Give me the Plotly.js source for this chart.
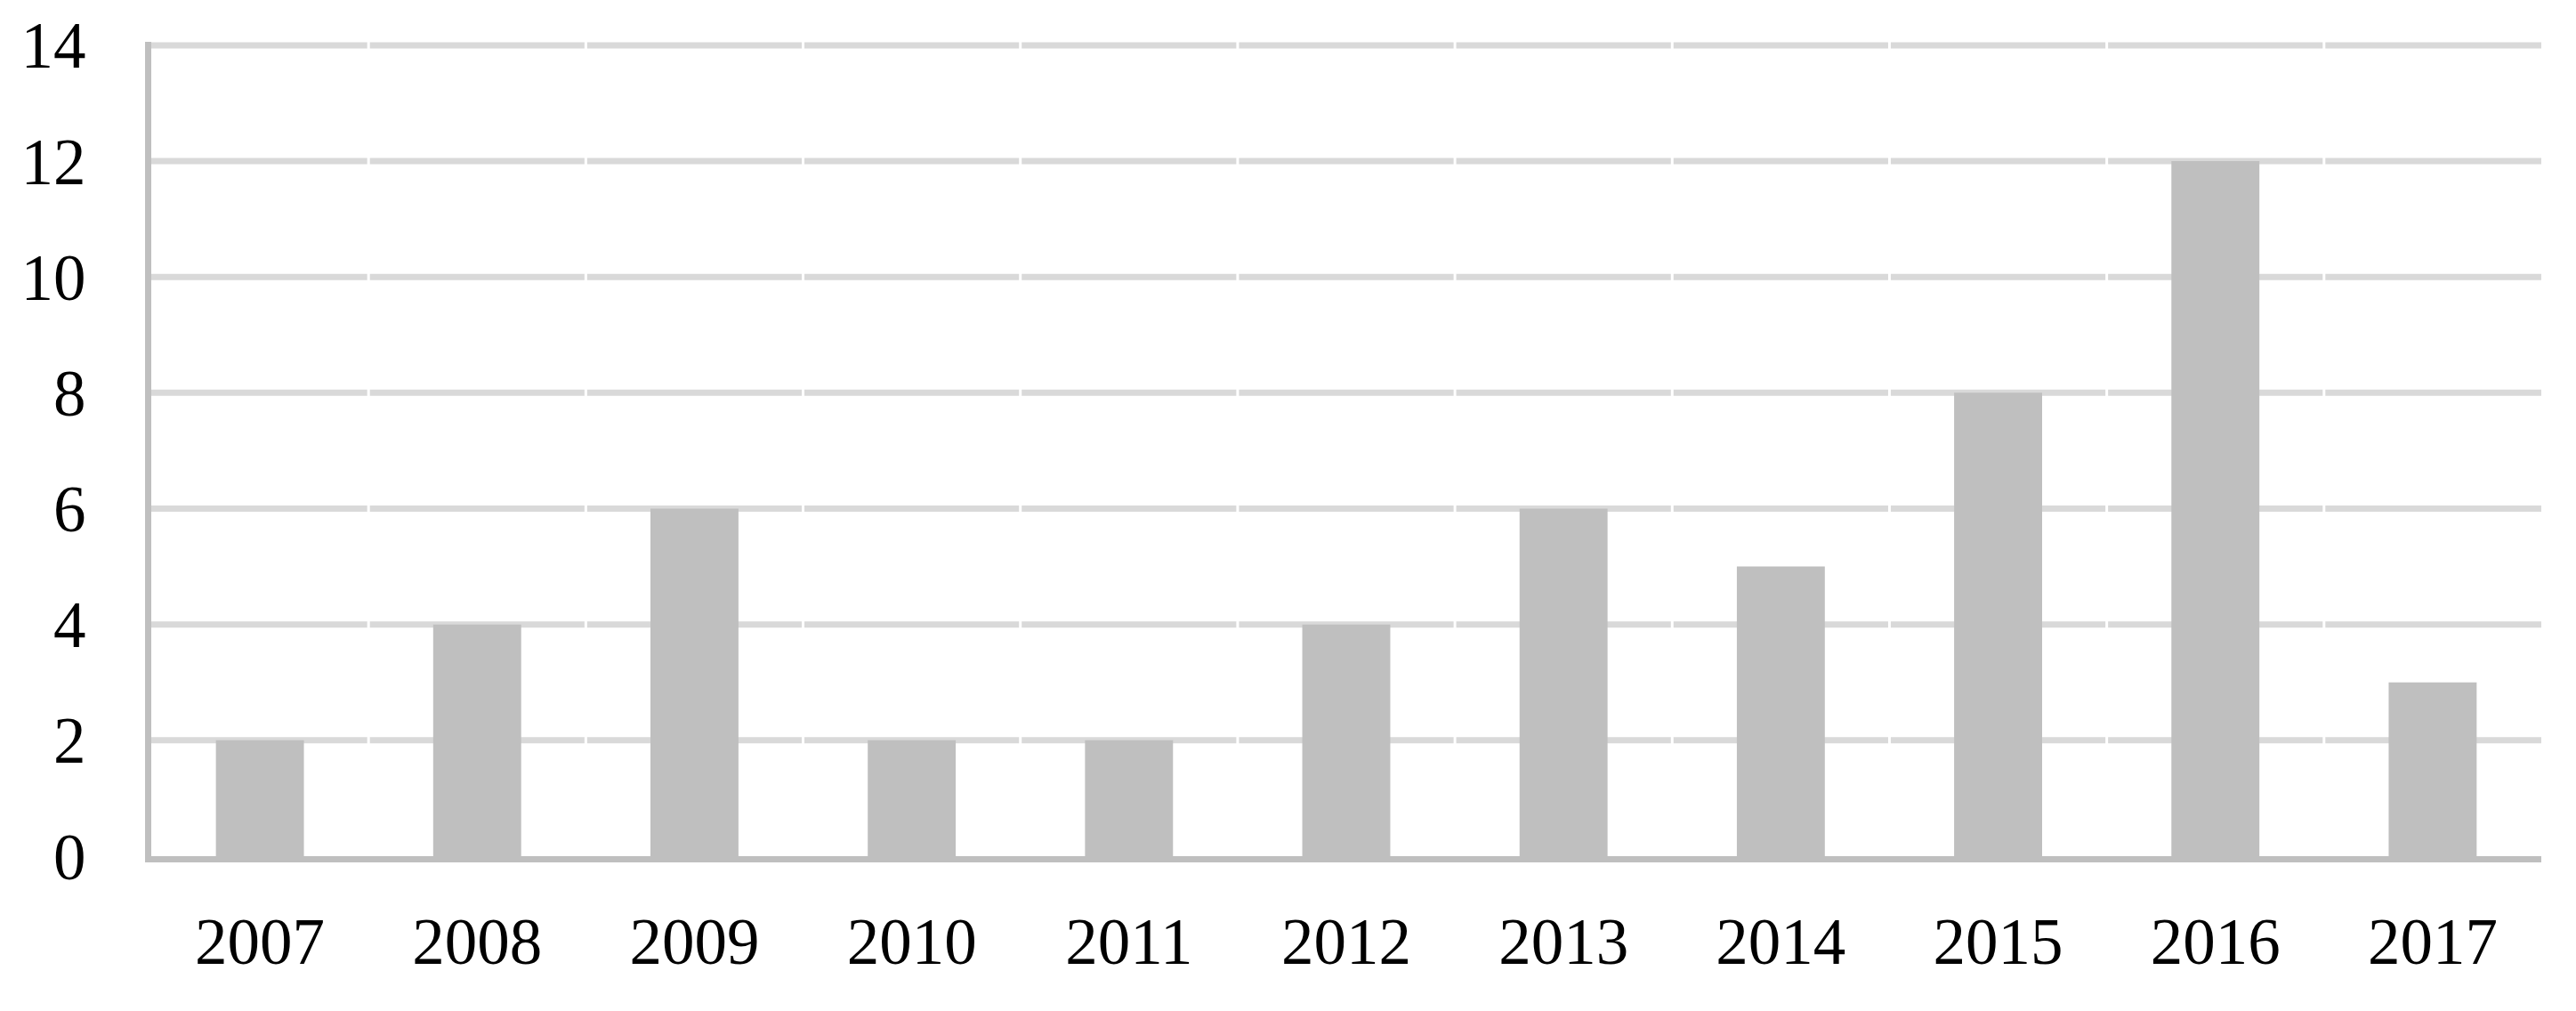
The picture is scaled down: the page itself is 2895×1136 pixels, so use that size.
<!DOCTYPE html>
<html>
<head>
<meta charset="utf-8">
<script src="https://cdn.plot.ly/plotly-3.0.1.min.js"></script>
<style>html,body{margin:0;padding:0;background:#fff;}#chart{width:2895px;height:1136px;}</style>
</head>
<body>
<div id="chart"></div>
<script>
const years = ["2007","2008","2009","2010","2011","2012","2013","2014","2015","2016","2017"];
const counts = [2, 4, 6, 2, 2, 4, 6, 5, 8, 12, 3];
const yTicks = [0, 2, 4, 6, 8, 10, 12, 14];

// horizontal gridlines (skip 0, where the axis line sits)
const gridShapes = yTicks.filter(v => v > 0).map(v => ({
  type: 'line', xref: 'paper', yref: 'y',
  x0: 0, x1: 1, y0: v, y1: v,
  line: {color: '#d9d9d9', width: 7},
  layer: 'below'
}));
// white separators at category boundaries
const boundaryShapes = years.slice(1).map((_, i) => ({
  type: 'line', xref: 'x', yref: 'paper',
  x0: i + 0.5, x1: i + 0.5, y0: 0, y1: 1,
  line: {color: '#ffffff', width: 3},
  layer: 'below'
}));

const font = {family: '"Liberation Serif", "DejaVu Serif", serif', size: 73, color: '#000000'};

Plotly.newPlot('chart', [{
  type: 'bar',
  x: years,
  y: counts,
  marker: {color: '#bfbfbf', line: {width: 0}},
  hoverinfo: 'skip'
}], {
  width: 2895, height: 1136,
  margin: {l: 170, r: 39, t: 47, b: 174, pad: 0},
  paper_bgcolor: '#ffffff', plot_bgcolor: '#ffffff',
  bargap: 0.595,
  showlegend: false,
  font: font,
  xaxis: {
    type: 'category',
    showgrid: false,
    showline: true, linecolor: '#bfbfbf', linewidth: 7,
    ticks: '', tickfont: font,
    ticklabelstandoff: 26,
    zeroline: false
  },
  yaxis: {
    range: [0, 14.06],
    tickvals: yTicks, ticktext: yTicks.map(String),
    showgrid: false,
    showline: true, linecolor: '#bfbfbf', linewidth: 7,
    zeroline: false,
    ticks: '', tickfont: font,
    ticklabelstandoff: 52
  },
  shapes: gridShapes.concat(boundaryShapes)
}, {staticPlot: true, displayModeBar: false});
</script>
</body>
</html>
